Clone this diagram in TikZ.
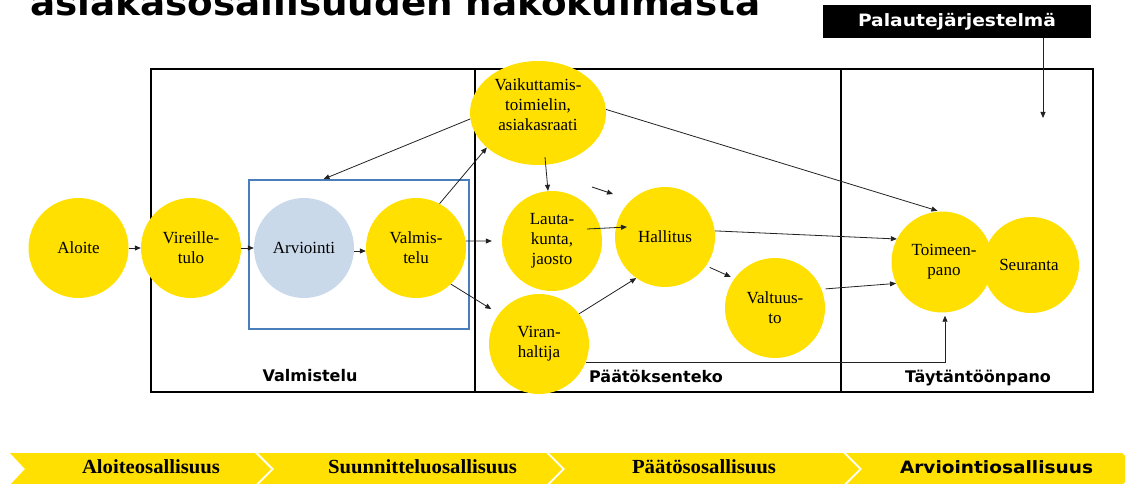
\documentclass[tikz,border=0pt]{standalone}
\usepackage{fontspec}
\setmainfont{Liberation Serif}
\newfontfamily\sansb{DejaVu Sans}
\usetikzlibrary{arrows.meta,shapes.geometric,calc}
\definecolor{yel}{HTML}{FFE000}
\definecolor{lblue}{HTML}{C9D9EA}
\definecolor{bblue}{HTML}{4A7EBB}
\definecolor{arrc}{HTML}{222222}
\begin{document}
\begin{tikzpicture}[x=1pt,y=-1pt,
  circ/.style={circle,fill=yel,minimum size=100pt,inner sep=0pt,align=center,font=\fontsize{17}{20}\selectfont},
  ctext/.style={inner sep=0pt,align=center,font=\fontsize{17}{20}\selectfont},
  arr/.style={draw=arrc,line width=0.8pt,-{Triangle[length=6pt,width=5pt]}},
  sect/.style={inner sep=0pt,font=\sansb\bfseries\fontsize{16}{18}\selectfont},
  chev/.style={fill=yel},
  btext/.style={inner sep=0pt,font=\bfseries\fontsize{20}{22}\selectfont},
  frame/.style={draw=black,line width=2pt}
]
\useasboundingbox (0,0) rectangle (1125,484);
\clip (0,0) rectangle (1125,484);

% title (cut off at top)
\node[anchor=base west,inner sep=0pt] (title) at (30,16)
  {\resizebox{730pt}{\height}{\sansb\bfseries\fontsize{36}{36}\selectfont asiakasosallisuuden näkökulmasta}};

% feedback box
\node[fill=black,minimum width=268pt,minimum height=33pt,inner sep=0pt,text=white] (pal) at (957,21.5)
  {\resizebox{198pt}{\height}{\sansb\bfseries\fontsize{17}{18}\selectfont Palautejärjestelmä}};

% frame
\draw[frame] (151,69) rectangle (1093,392);
\draw[frame] (475,69) -- (475,392);
\draw[frame] (841,69) -- (841,392);

% blue box
\node[draw=bblue,line width=1.8pt,minimum width=220pt,minimum height=149pt,inner sep=0pt] (blue) at (359,254.5) {};

% section labels
\node[sect] (l1) at (310,376) {Valmistelu};
\node[sect] (l2) at (656,376) {Päätöksenteko};
\node[sect] (l3) at (978,378) {Täytäntöönpano};

% circles
\node[circ] (aloite) at (78.5,248) {Aloite};
\node[circ] (vire) at (191,248) {Vireille-\\tulo};
\node[circ,fill=lblue] (arv) at (304,248) {Arviointi};
\node[circ] (valm) at (416,248) {Valmis-\\telu};
\node[ellipse,fill=yel,minimum width=136pt,minimum height=104pt,inner sep=0pt] (vaik) at (538,113) {};
\node[ctext] (vaiktxt) at (538,105) {Vaikuttamis-\\toimielin,\\asiakasraati};
\node[circ] (lauta) at (552,241) {Lauta-\\kunta,\\jaosto};
\node[circ] (hall) at (665,237) {Hallitus};
\node[circ] (viran) at (539,344) {Viran-\\haltija};
\node[circ] (valt) at (775,308) {Valtuus-\\to};
\node[circ,minimum size=101pt] (toim) at (942,262) {};
\node[circ,minimum size=96pt] (seur) at (1031,265) {};
\node[ctext] (toimtxt) at (944,262) {Toimeen-\\pano};
\node[ctext] (seurtxt) at (1029,265) {Seuranta};

% loose arrow ends
\coordinate (s1) at (592,187);
\coordinate (s2) at (613,194);
\coordinate (pend) at (1043,118);

% connectors
\draw[arr] (aloite.east) -- (vire.west);
\draw[arr] (vire.east) -- (arv.west);
\draw[arr] ([shift={(0,3)}]arv.east) -- ([shift={(0,3)}]valm.west);
\draw[arr] (vaik.185) -- ($(blue.north west)!0.34!(blue.north east)$);
\draw[arr] (valm.62) -- (vaik.214);
\draw[arr,shorten >=10pt] (valm.8) -- (lauta.west);
\draw[arr,shorten >=9pt] (valm.-46) -- (viran.143);
\draw[arr] ([shift={(7,-8)}]vaik.south) -- ([shift={(-4,0)}]lauta.north);
\draw[arr] (s1) -- (s2);
\draw[arr] ([shift={(35,-12)}]lauta.center) -- ([shift={(-38,-10)}]hall.center);
\draw[arr] (viran.37) -- (hall.235);
\draw[arr,shorten <=4pt,shorten >=4pt] (hall.-35) -- (valt.144);
\draw[arr] (hall.7) -- (toim.153);
\draw[arr,shorten <=4pt] (valt.22) -- (toim.205);
\draw[arr,shorten >=2pt] (vaik.3) -- (toim.93);
\draw[arr] ([shift={(86,0)}]pal.south) -- (pend);
\draw[arr] (viran.-21) -| ([shift={(3,3)}]toim.south);

% chevron bar
\fill[chev] (10,453) -- (255,453) -- (271,469) -- (255,485) -- (10,485) -- (25,469) -- cycle;
\fill[chev] (258,453) -- (546,453) -- (562,469) -- (546,485) -- (258,485) -- (274,469) -- cycle;
\fill[chev] (549,453) -- (843,453) -- (859,469) -- (843,485) -- (549,485) -- (565,469) -- cycle;
\fill[chev] (846,453) -- (1122,453) -- (1138,469) -- (1122,485) -- (846,485) -- (862,469) -- cycle;
\node[btext] (b1) at (151,467) {\resizebox{138pt}{\height}{Aloiteosallisuus}};
\node[btext] (b2) at (422.5,467) {\resizebox{189pt}{\height}{Suunnitteluosallisuus}};
\node[btext] (b3) at (704,467) {\resizebox{144pt}{\height}{Päätösosallisuus}};
\node[inner sep=0pt] (b4) at (996.5,467) {\resizebox{193pt}{\height}{\sansb\bfseries\fontsize{17}{18}\selectfont Arviointiosallisuus}};
\end{tikzpicture}
\end{document}
